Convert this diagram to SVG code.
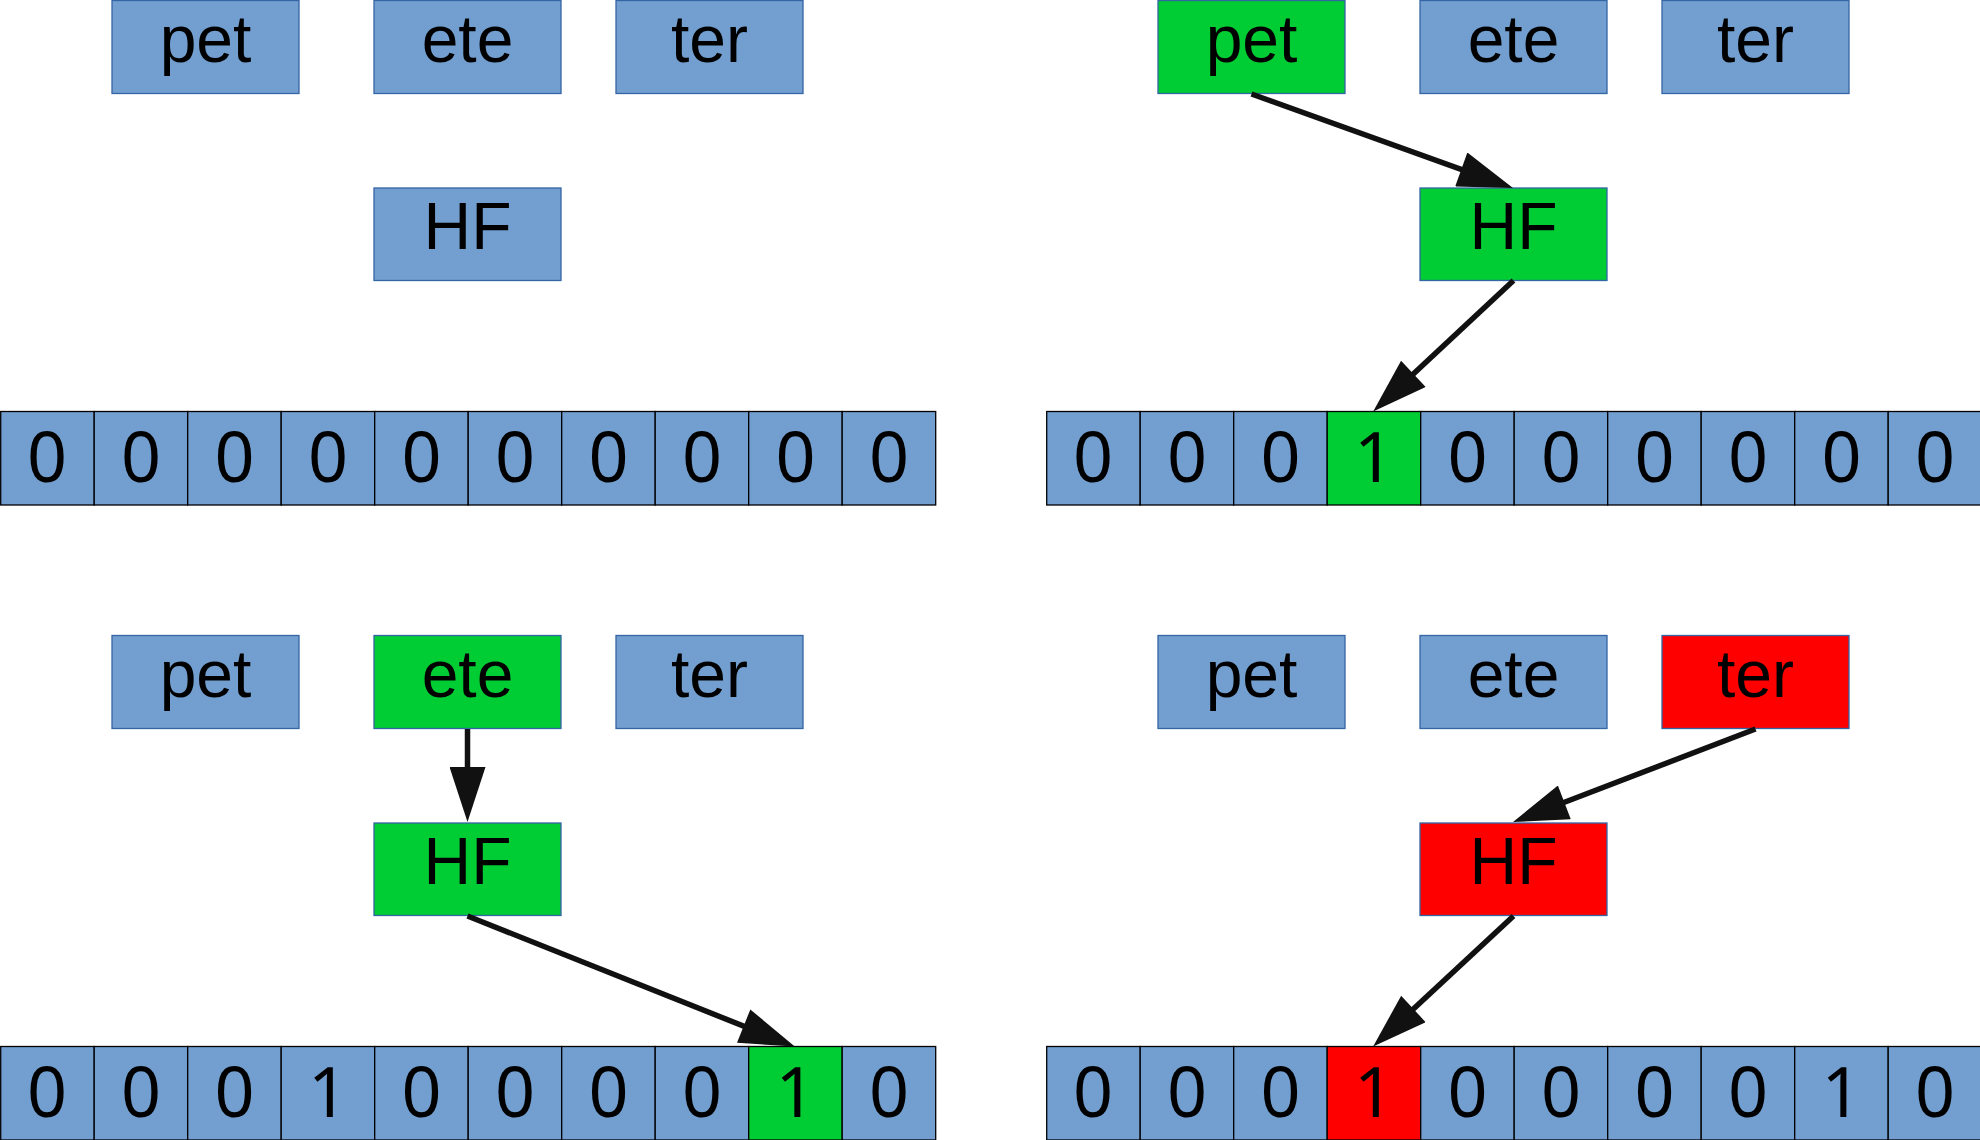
<svg xmlns="http://www.w3.org/2000/svg" width="1980" height="1140" viewBox="0 0 1980 1140">
<style>
.node{fill:#729fcf;stroke:#3465a4;stroke-width:1.3}
.cell{fill:#729fcf;stroke:#000;stroke-width:1.3}
.g{fill:#00cc33}
.r{fill:#ff0000}
.lbl{font-family:"Liberation Sans",Arial,sans-serif;font-size:66px;fill:#000;text-anchor:middle}
.dig{font-family:"Noto Sans","Open Sans",sans-serif;font-size:70px;fill:#000;text-anchor:middle}
.conn{stroke:#111;stroke-width:5.5;fill:none;marker-end:url(#ah)}
</style>
<defs>
<marker id="ah" markerUnits="userSpaceOnUse" markerWidth="56" markerHeight="36" refX="25" refY="18" orient="auto" viewBox="0 0 55 36">
<path d="M0,0 L55,18 L0,36 z" fill="#111"/>
</marker>
</defs>
<rect width="1980" height="1140" fill="#fff"/>

<!-- Panel TL -->
<g id="tl">
<g id="tl-pet"><rect class="node" x="112" y="0.5" width="187" height="93"/><text class="lbl" x="205.5" y="62">pet</text></g>
<g id="tl-ete"><rect class="node" x="374" y="0.5" width="187" height="93"/><text class="lbl" x="467.5" y="62">ete</text></g>
<g id="tl-ter"><rect class="node" x="616" y="0.5" width="187" height="93"/><text class="lbl" x="709.5" y="62">ter</text></g>
<g id="tl-hf"><rect class="node" x="374" y="188" width="187" height="92.5"/><text class="lbl" x="467.5" y="249">HF</text></g>
<g id="tl-bits">
<rect class="cell" x="0.7" y="411.5" width="93.5" height="93.5"/><text class="dig" x="47" y="482">0</text>
<rect class="cell" x="94.2" y="411.5" width="93.5" height="93.5"/><text class="dig" x="141" y="482">0</text>
<rect class="cell" x="187.7" y="411.5" width="93.5" height="93.5"/><text class="dig" x="234.5" y="482">0</text>
<rect class="cell" x="281.2" y="411.5" width="93.5" height="93.5"/><text class="dig" x="328" y="482">0</text>
<rect class="cell" x="374.7" y="411.5" width="93.5" height="93.5"/><text class="dig" x="421.5" y="482">0</text>
<rect class="cell" x="468.2" y="411.5" width="93.5" height="93.5"/><text class="dig" x="515" y="482">0</text>
<rect class="cell" x="561.7" y="411.5" width="93.5" height="93.5"/><text class="dig" x="608.5" y="482">0</text>
<rect class="cell" x="655.2" y="411.5" width="93.5" height="93.5"/><text class="dig" x="702" y="482">0</text>
<rect class="cell" x="748.7" y="411.5" width="93.5" height="93.5"/><text class="dig" x="795.5" y="482">0</text>
<rect class="cell" x="842.2" y="411.5" width="93.5" height="93.5"/><text class="dig" x="889" y="482">0</text>
</g>
</g>

<!-- Panel TR -->
<g id="tr" transform="translate(1046,0)">
<g id="tr-pet"><rect class="node g" x="112" y="0.5" width="187" height="93"/><text class="lbl" x="205.5" y="62">pet</text></g>
<g id="tr-ete"><rect class="node" x="374" y="0.5" width="187" height="93"/><text class="lbl" x="467.5" y="62">ete</text></g>
<g id="tr-ter"><rect class="node" x="616" y="0.5" width="187" height="93"/><text class="lbl" x="709.5" y="62">ter</text></g>
<g id="tr-hf"><rect class="node g" x="374" y="188" width="187" height="92.5"/><text class="lbl" x="467.5" y="249">HF</text></g>
<g id="tr-bits">
<rect class="cell" x="0.7" y="411.5" width="93.5" height="93.5"/><text class="dig" x="47" y="482">0</text>
<rect class="cell" x="94.2" y="411.5" width="93.5" height="93.5"/><text class="dig" x="141" y="482">0</text>
<rect class="cell" x="187.7" y="411.5" width="93.5" height="93.5"/><text class="dig" x="234.5" y="482">0</text>
<rect class="cell g" x="281.2" y="411.5" width="93.5" height="93.5"/><text class="dig" x="328" y="482">1</text>
<rect class="cell" x="374.7" y="411.5" width="93.5" height="93.5"/><text class="dig" x="421.5" y="482">0</text>
<rect class="cell" x="468.2" y="411.5" width="93.5" height="93.5"/><text class="dig" x="515" y="482">0</text>
<rect class="cell" x="561.7" y="411.5" width="93.5" height="93.5"/><text class="dig" x="608.5" y="482">0</text>
<rect class="cell" x="655.2" y="411.5" width="93.5" height="93.5"/><text class="dig" x="702" y="482">0</text>
<rect class="cell" x="748.7" y="411.5" width="93.5" height="93.5"/><text class="dig" x="795.5" y="482">0</text>
<rect class="cell" x="842.2" y="411.5" width="93.5" height="93.5"/><text class="dig" x="889" y="482">0</text>
</g>
</g>

<!-- Panel BL -->
<g id="bl" transform="translate(0,635)">
<g id="bl-pet"><rect class="node" x="112" y="0.5" width="187" height="93"/><text class="lbl" x="205.5" y="62">pet</text></g>
<g id="bl-ete"><rect class="node g" x="374" y="0.5" width="187" height="93"/><text class="lbl" x="467.5" y="62">ete</text></g>
<g id="bl-ter"><rect class="node" x="616" y="0.5" width="187" height="93"/><text class="lbl" x="709.5" y="62">ter</text></g>
<g id="bl-hf"><rect class="node g" x="374" y="188" width="187" height="92.5"/><text class="lbl" x="467.5" y="249">HF</text></g>
<g id="bl-bits">
<rect class="cell" x="0.7" y="411.5" width="93.5" height="93.5"/><text class="dig" x="47" y="482">0</text>
<rect class="cell" x="94.2" y="411.5" width="93.5" height="93.5"/><text class="dig" x="141" y="482">0</text>
<rect class="cell" x="187.7" y="411.5" width="93.5" height="93.5"/><text class="dig" x="234.5" y="482">0</text>
<rect class="cell" x="281.2" y="411.5" width="93.5" height="93.5"/><text class="dig" x="328" y="482">1</text>
<rect class="cell" x="374.7" y="411.5" width="93.5" height="93.5"/><text class="dig" x="421.5" y="482">0</text>
<rect class="cell" x="468.2" y="411.5" width="93.5" height="93.5"/><text class="dig" x="515" y="482">0</text>
<rect class="cell" x="561.7" y="411.5" width="93.5" height="93.5"/><text class="dig" x="608.5" y="482">0</text>
<rect class="cell" x="655.2" y="411.5" width="93.5" height="93.5"/><text class="dig" x="702" y="482">0</text>
<rect class="cell g" x="748.7" y="411.5" width="93.5" height="93.5"/><text class="dig" x="795.5" y="482">1</text>
<rect class="cell" x="842.2" y="411.5" width="93.5" height="93.5"/><text class="dig" x="889" y="482">0</text>
</g>
</g>

<!-- Panel BR -->
<g id="br" transform="translate(1046,635)">
<g id="br-pet"><rect class="node" x="112" y="0.5" width="187" height="93"/><text class="lbl" x="205.5" y="62">pet</text></g>
<g id="br-ete"><rect class="node" x="374" y="0.5" width="187" height="93"/><text class="lbl" x="467.5" y="62">ete</text></g>
<g id="br-ter"><rect class="node r" x="616" y="0.5" width="187" height="93"/><text class="lbl" x="709.5" y="62">ter</text></g>
<g id="br-hf"><rect class="node r" x="374" y="188" width="187" height="92.5"/><text class="lbl" x="467.5" y="249">HF</text></g>
<g id="br-bits">
<rect class="cell" x="0.7" y="411.5" width="93.5" height="93.5"/><text class="dig" x="47" y="482">0</text>
<rect class="cell" x="94.2" y="411.5" width="93.5" height="93.5"/><text class="dig" x="141" y="482">0</text>
<rect class="cell" x="187.7" y="411.5" width="93.5" height="93.5"/><text class="dig" x="234.5" y="482">0</text>
<rect class="cell r" x="281.2" y="411.5" width="93.5" height="93.5"/><text class="dig" x="328" y="482">1</text>
<rect class="cell" x="374.7" y="411.5" width="93.5" height="93.5"/><text class="dig" x="421.5" y="482">0</text>
<rect class="cell" x="468.2" y="411.5" width="93.5" height="93.5"/><text class="dig" x="515" y="482">0</text>
<rect class="cell" x="561.7" y="411.5" width="93.5" height="93.5"/><text class="dig" x="608.5" y="482">0</text>
<rect class="cell" x="655.2" y="411.5" width="93.5" height="93.5"/><text class="dig" x="702" y="482">0</text>
<rect class="cell" x="748.7" y="411.5" width="93.5" height="93.5"/><text class="dig" x="795.5" y="482">1</text>
<rect class="cell" x="842.2" y="411.5" width="93.5" height="93.5"/><text class="dig" x="889" y="482">0</text>
</g>
</g>

<g id="connectors">
<line class="conn" x1="1251.5" y1="94" x2="1484.8" y2="177.9"/>
<line class="conn" x1="1513.5" y1="280.5" x2="1395.1" y2="391"/>
<line class="conn" x1="467.5" y1="729" x2="467.5" y2="792"/>
<line class="conn" x1="467.5" y1="916" x2="766.9" y2="1035.4"/>
<line class="conn" x1="1755.5" y1="729" x2="1541" y2="811.3"/>
<line class="conn" x1="1513.5" y1="916" x2="1395.1" y2="1026"/>
</g>
</svg>
